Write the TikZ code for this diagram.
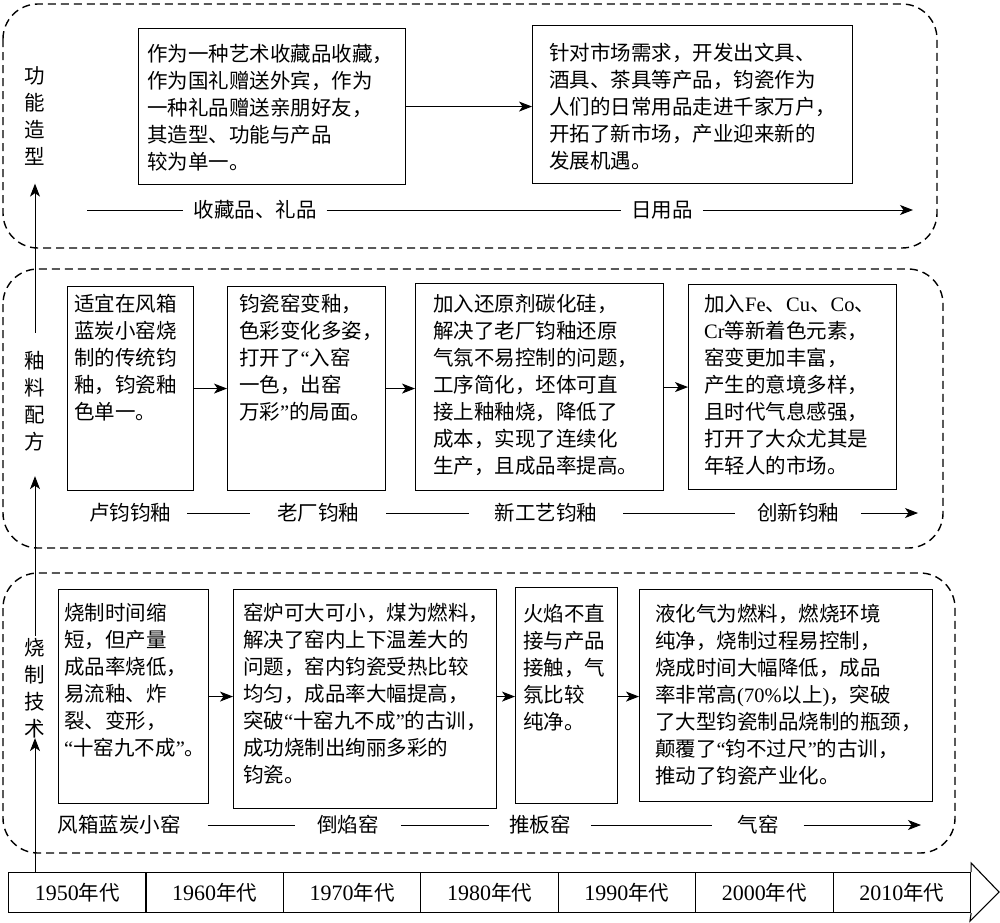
\documentclass[tikz,border=0pt]{standalone}
\usepackage{fontspec}
\setmainfont{Noto Sans CJK SC}
\newfontfamily\lat{Liberation Serif}
\usetikzlibrary{arrows.meta}
\newcommand{\myoq}{{\lat “}}
\newcommand{\mycq}{{\lat ”}}
\newcommand{\yr}[1]{{\lat\fontsize{22}{22}\selectfont #1}年代}
\newcommand{\fl}{\rule{0pt}{19pt}}
\begin{document}
\begin{tikzpicture}[x=1pt,y=-1pt,
  box/.style={draw, line width=1.1pt, inner sep=0pt, anchor=north west},
  txt/.style={inner sep=0pt, anchor=north west, align=left, font=\fontsize{20.5}{27}\selectfont},
  lbl/.style={inner ysep=0pt, font=\fontsize{20.5}{27}\selectfont},
  vlbl/.style={inner sep=0pt, align=center, font=\fontsize{20.5}{27}\selectfont},
  sec/.style={draw, line width=1.4pt, dash pattern=on 8pt off 5pt, rounded corners=35pt},
  arr/.style={-{Stealth[length=13pt,width=10pt,inset=3.5pt]}, line width=1pt},
  ln/.style={line width=1pt},
  cell/.style={draw, line width=1.1pt, minimum width=137.43pt, minimum height=40pt, inner sep=0pt, anchor=north west, font=\fontsize{20.5}{22}\selectfont}
]
\useasboundingbox (0,0) rectangle (1000,922);

% section frames
\draw[sec] (3,4) rectangle (937,248);
\draw[sec] (3,269) rectangle (943,548);
\draw[sec] (3,573) rectangle (955,853);

% ---------- top section ----------
\node[box, minimum width=267pt, minimum height=156pt] (f1) at (138,28) {};
\node[box, minimum width=320pt, minimum height=158pt] (f2) at (532,25) {};
\draw[arr] (f1.east) -- (f1.east -| f2.west);
\node[txt] (f1t) at (147,42) {\fl 作为一种艺术收藏品收藏，\\作为国礼赠送外宾，作为\\一种礼品赠送亲朋好友，\\其造型、功能与产品\\较为单一。};
\node[txt] (f2t) at (549,41) {\fl 针对市场需求，开发出文具、\\酒具、茶具等产品，钧瓷作为\\人们的日常用品走进千家万户，\\开拓了新市场，产业迎来新的\\发展机遇。};
\coordinate (c0) at (87,210);
\coordinate (ce) at (913,210);
\node[lbl, inner xsep=10pt] (c1) at (255,210) {收藏品、礼品};
\node[lbl, inner xsep=10pt] (c2) at (662,210) {日用品};
\draw[ln] (c0) -- (c1);
\draw[ln] (c1) -- (c2);
\draw[arr] (c2) -- (ce);

% ---------- middle section ----------
\node[box, minimum width=126pt, minimum height=204pt] (ma) at (67,286) {};
\node[box, minimum width=158pt, minimum height=204pt] (mb) at (227,286) {};
\node[box, minimum width=248pt, minimum height=207pt] (mc) at (415,283) {};
\node[box, minimum width=208pt, minimum height=205pt] (md) at (688,284) {};
\draw[arr] (ma.east) -- (ma.east -| mb.west);
\draw[arr] (mb.east) -- (mb.east -| mc.west);
\draw[arr] (mc.east) -- (mc.east -| md.west);
\node[txt] (mat) at (74,292) {\fl 适宜在风箱\\蓝炭小窑烧\\制的传统钧\\釉，钧瓷釉\\色单一。};
\node[txt] (mbt) at (239,292) {\fl 钧瓷窑变釉，\\色彩变化多姿，\\打开了\myoq 入窑\\一色，出窑\\万彩\mycq 的局面。};
\node[txt] (mct) at (433,292) {\fl 加入还原剂碳化硅，\\解决了老厂钧釉还原\\气氛不易控制的问题，\\工序简化，坯体可直\\接上釉釉烧，降低了\\成本，实现了连续化\\生产，且成品率提高。};
\node[txt] (mdt) at (704,292) {\fl 加入{\lat Fe}、{\lat Cu}、{\lat Co}、\\{\lat Cr}等新着色元素，\\窑变更加丰富，\\产生的意境多样，\\且时代气息感强，\\打开了大众尤其是\\年轻人的市场。};
\node[lbl, inner xsep=16pt] (m1) at (130,513) {卢钧钧釉};
\node[lbl, inner xsep=27pt] (m2) at (318,513) {老厂钧釉};
\node[lbl, inner xsep=26pt] (m3) at (546,513) {新工艺钧釉};
\node[lbl, inner xsep=22pt] (m4) at (798,513) {创新钧釉};
\coordinate (me) at (918,513);
\draw[ln] (m1) -- (m2);
\draw[ln] (m2) -- (m3);
\draw[ln] (m3) -- (m4);
\draw[arr] (m4) -- (me);

% ---------- bottom section ----------
\node[box, minimum width=150pt, minimum height=214pt] (b1) at (58,589) {};
\node[box, minimum width=263pt, minimum height=219pt] (b2) at (233,589) {};
\node[box, minimum width=102pt, minimum height=216pt] (b3) at (515,587) {};
\node[box, minimum width=293pt, minimum height=212pt] (b4) at (639,589) {};
\draw[arr] (b1.east) -- (b1.east -| b2.west);
\draw[arr] (b1.east -| b2.east) -- (b1.east -| b3.west);
\draw[arr] (b1.east -| b3.east) -- (b1.east -| b4.west);
\node[txt] (b1t) at (64,601) {\fl 烧制时间缩\\短，但产量\\成品率烧低，\\易流釉、炸\\裂、变形，\\\myoq 十窑九不成\mycq 。};
\node[txt] (b2t) at (243,601) {\fl 窑炉可大可小，煤为燃料，\\解决了窑内上下温差大的\\问题，窑内钧瓷受热比较\\均匀，成品率大幅提高，\\突破\myoq 十窑九不成\mycq 的古训，\\成功烧制出绚丽多彩的\\钧瓷。};
\node[txt] (b3t) at (523,602) {\fl 火焰不直\\接与产品\\接触，气\\氛比较\\纯净。};
\node[txt] (b4t) at (655,602) {\fl 液化气为燃料，燃烧环境\\纯净，烧制过程易控制，\\烧成时间大幅降低，成品\\率非常高{\lat (70\%}以上{\lat )}，突破\\了大型钧瓷制品烧制的瓶颈，\\颠覆了\myoq 钧不过尺\mycq 的古训，\\推动了钧瓷产业化。};
\node[lbl, inner xsep=27pt] (k1) at (119,825) {风箱蓝炭小窑};
\node[lbl, inner xsep=22pt] (k2) at (348,825) {倒焰窑};
\node[lbl, inner xsep=20pt] (k3) at (540,825) {推板窑};
\node[lbl, inner xsep=25pt] (k4) at (758,825) {气窑};
\coordinate (ke) at (921,825);
\draw[ln] (k1) -- (k2);
\draw[ln] (k2) -- (k3);
\draw[ln] (k3) -- (k4);
\draw[arr] (k4) -- (ke);

% ---------- vertical axis labels ----------
\node[vlbl] (v1) at (35,116) {功\\能\\造\\型};
\node[vlbl] (v2) at (35,401) {釉\\料\\配\\方};
\node[vlbl] (v3) at (35,688) {烧\\制\\技\\术};

% ---------- timeline ----------
\node[cell] (t0) at (8,872) {\yr{1950}};
\node[cell] (t1) at (145.43,872) {\yr{1960}};
\node[cell] (t2) at (282.86,872) {\yr{1970}};
\node[cell] (t3) at (420.29,872) {\yr{1980}};
\node[cell] (t4) at (557.72,872) {\yr{1990}};
\node[cell] (t5) at (695.15,872) {\yr{2000}};
\node[cell] (t6) at (832.58,872) {\yr{2010}};
\draw[line width=1.1pt, line join=miter] (t6.north east) -- ++(0,-9) -- (999,892) -- (970,921) -- (t6.south east);

% vertical axis arrows
\draw[arr] (v3.south |- t0.north) -- (v3.south);
\draw[arr, shorten <=2pt, shorten >=25pt] (v3.north) -- (v2.south);
\draw[arr, shorten <=18pt, shorten >=18pt] (v2.north) -- (v1.south);
\end{tikzpicture}
\end{document}
